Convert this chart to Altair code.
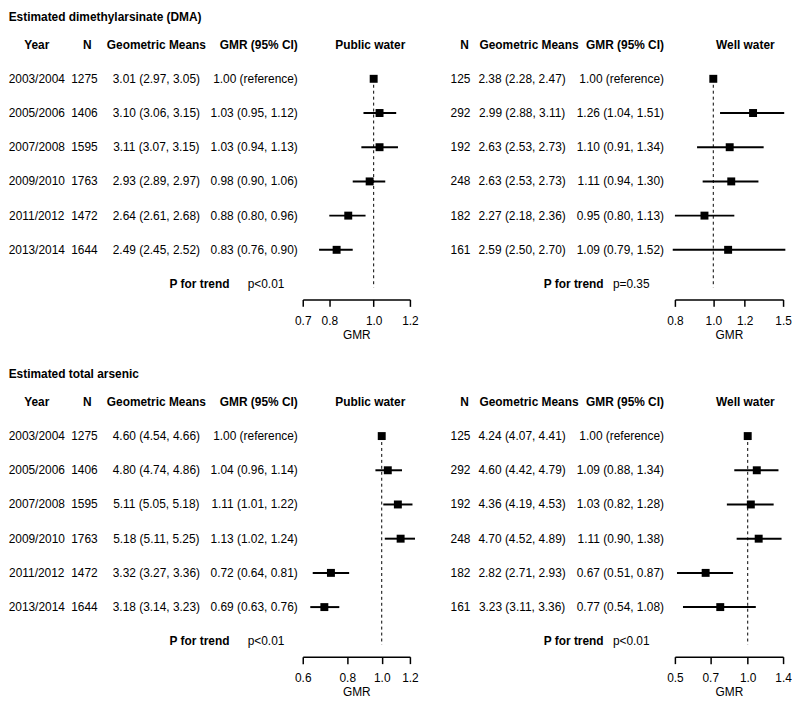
import altair as alt
import pandas as pd

FONT = "Liberation Sans"

years = ["2003/2004", "2005/2006", "2007/2008", "2009/2010", "2011/2012", "2013/2014"]
pub_n = [1275, 1406, 1595, 1763, 1472, 1644]
well_n = [125, 292, 192, 248, 182, 161]

# Estimated DMA
dma_pub_gm = [3.01, 3.10, 3.11, 2.93, 2.64, 2.49]
dma_pub_gm_lo = [2.97, 3.06, 3.07, 2.89, 2.61, 2.45]
dma_pub_gm_hi = [3.05, 3.15, 3.15, 2.97, 2.68, 2.52]
dma_pub_gmr = [1.00, 1.03, 1.03, 0.98, 0.88, 0.83]
dma_pub_lo = [None, 0.95, 0.94, 0.90, 0.80, 0.76]
dma_pub_hi = [None, 1.12, 1.13, 1.06, 0.96, 0.90]

dma_well_gm = [2.38, 2.99, 2.63, 2.63, 2.27, 2.59]
dma_well_gm_lo = [2.28, 2.88, 2.53, 2.53, 2.18, 2.50]
dma_well_gm_hi = [2.47, 3.11, 2.73, 2.73, 2.36, 2.70]
dma_well_gmr = [1.00, 1.26, 1.10, 1.11, 0.95, 1.09]
dma_well_lo = [None, 1.04, 0.91, 0.94, 0.80, 0.79]
dma_well_hi = [None, 1.51, 1.34, 1.30, 1.13, 1.52]

# Estimated total arsenic
tot_pub_gm = [4.60, 4.80, 5.11, 5.18, 3.32, 3.18]
tot_pub_gm_lo = [4.54, 4.74, 5.05, 5.11, 3.27, 3.14]
tot_pub_gm_hi = [4.66, 4.86, 5.18, 5.25, 3.36, 3.23]
tot_pub_gmr = [1.00, 1.04, 1.11, 1.13, 0.72, 0.69]
tot_pub_lo = [None, 0.96, 1.01, 1.02, 0.64, 0.63]
tot_pub_hi = [None, 1.14, 1.22, 1.24, 0.81, 0.76]

tot_well_gm = [4.24, 4.60, 4.36, 4.70, 2.82, 3.23]
tot_well_gm_lo = [4.07, 4.42, 4.19, 4.52, 2.71, 3.11]
tot_well_gm_hi = [4.41, 4.79, 4.53, 4.89, 2.93, 3.36]
tot_well_gmr = [1.00, 1.09, 1.03, 1.11, 0.67, 0.77]
tot_well_lo = [None, 0.88, 0.82, 0.90, 0.51, 0.54]
tot_well_hi = [None, 1.34, 1.28, 1.38, 0.87, 1.08]

dma_p = ["p<0.01", "p=0.35"]
tot_p = ["p<0.01", "p<0.01"]

dma_pub_ticks = [0.7, 0.8, 1.0, 1.2]
dma_well_ticks = [0.8, 1.0, 1.2, 1.5]
tot_pub_ticks = [0.6, 0.8, 1.0, 1.2]
tot_well_ticks = [0.5, 0.7, 1.0, 1.4]

H = 274


def make_df(n, gm, gml, gmh, gmr, lo, hi):
    gmr_lbl = []
    for g, l, h in zip(gmr, lo, hi):
        if l is None:
            gmr_lbl.append(f"{g:.2f} (reference)")
        else:
            gmr_lbl.append(f"{g:.2f} ({l:.2f}, {h:.2f})")
    return pd.DataFrame({
        "row": list(range(1, len(years) + 1)),
        "year": years,
        "n": [str(v) for v in n],
        "gm_lbl": [f"{a:.2f} ({b:.2f}, {c:.2f})" for a, b, c in zip(gm, gml, gmh)],
        "gmr_lbl": gmr_lbl,
        "gmr": gmr,
        "lo": lo,
        "hi": hi,
    })


def yscale():
    return alt.Scale(domain=[-0.5, 7.45], reverse=True, nice=False, zero=False)


def Y(field="row"):
    return alt.Y(f"{field}:Q", scale=yscale(), axis=None)


def txt(df, field, x, align="center", bold=False):
    return alt.Chart(df).mark_text(
        align=align, baseline="middle", font=FONT, fontSize=12,
        fontWeight="bold" if bold else "normal", color="black"
    ).encode(x=alt.value(x), y=Y(), text=f"{field}:N")


def label(text, row, x, align="center", bold=False):
    return txt(pd.DataFrame({"row": [row], "t": [text]}), "t", x, align, bold)


def left_table(df, pval):
    return alt.layer(
        label("Year", 0, 28, bold=True),
        label("N", 0, 79, bold=True),
        label("Geometric Means", 0, 148.5, bold=True),
        label("GMR (95% CI)", 0, 291, align="right", bold=True),
        txt(df, "year", 28),
        txt(df, "n", 76),
        txt(df, "gm_lbl", 148.5),
        txt(df, "gmr_lbl", 291, align="right"),
        label("P for trend", 7, 192, bold=True),
        label(pval, 7, 259),
    ).properties(width=296, height=H)


def right_table(df, pval):
    return alt.layer(
        label("N", 0, 55, bold=True),
        label("Geometric Means", 0, 120, bold=True),
        label("GMR (95% CI)", 0, 256, align="right", bold=True),
        txt(df, "n", 61, align="right"),
        txt(df, "gm_lbl", 113),
        txt(df, "gmr_lbl", 256, align="right"),
        label("P for trend", 7, 165, bold=True),
        label(pval, 7, 223),
    ).properties(width=267, height=H)


def forest(df, domain, ticks, width, header, hx):
    sc = alt.Scale(type="log", domain=domain, nice=False)
    ax = alt.Axis(values=ticks, format=".1f", title="GMR", orient="bottom",
                  domainColor="black", domainWidth=1.5, tickColor="black", tickWidth=1.5,
                  tickSize=7, labelFont=FONT, labelFontSize=12, labelColor="black",
                  labelPadding=9, titleFont=FONT, titleFontSize=12, titleFontWeight="normal",
                  titleColor="black", titlePadding=3, grid=False, labelFlush=False,
                  labelOverlap=False)
    ref = alt.Chart(pd.DataFrame({"ref": [1.0], "r1": [1.0], "r2": [7.1]})).mark_rule(
        color="black", strokeWidth=1, strokeDash=[3, 3]
    ).encode(x=alt.X("ref:Q", scale=sc, axis=ax), y=Y("r1"), y2="r2:Q")
    ci = alt.Chart(df).transform_filter("isValid(datum.lo)").mark_rule(
        color="black", strokeWidth=2
    ).encode(x=alt.X("lo:Q", scale=sc, axis=ax), x2="hi:Q", y=Y())
    pt = alt.Chart(df).mark_square(size=64, color="black", opacity=1).encode(
        x=alt.X("gmr:Q", scale=sc, axis=ax), y=Y()
    )
    return alt.layer(ref, ci, pt, label(header, 0, hx, bold=True)).properties(width=width, height=H)


def section(title, pub, well, pvals, pub_dom, pub_ticks, well_dom, well_ticks):
    return alt.hconcat(
        left_table(pub, pvals[0]),
        forest(pub, pub_dom, pub_ticks, 108, "Public water", 68),
        right_table(well, pvals[1]),
        forest(well, well_dom, well_ticks, 109, "Well water", 71),
        spacing=0, bounds="flush",
    ).properties(
        title=alt.TitleParams(title, anchor="start", font=FONT, fontSize=12,
                              fontWeight="bold", color="black", offset=4),
    )


dma_pub = make_df(pub_n, dma_pub_gm, dma_pub_gm_lo, dma_pub_gm_hi, dma_pub_gmr, dma_pub_lo, dma_pub_hi)
dma_well = make_df(well_n, dma_well_gm, dma_well_gm_lo, dma_well_gm_hi, dma_well_gmr, dma_well_lo, dma_well_hi)
tot_pub = make_df(pub_n, tot_pub_gm, tot_pub_gm_lo, tot_pub_gm_hi, tot_pub_gmr, tot_pub_lo, tot_pub_hi)
tot_well = make_df(well_n, tot_well_gm, tot_well_gm_lo, tot_well_gm_hi, tot_well_gmr, tot_well_lo, tot_well_hi)

sec1 = section("Estimated dimethylarsinate (DMA)", dma_pub, dma_well, dma_p,
               [0.7, 1.2], dma_pub_ticks, [0.8, 1.5], dma_well_ticks)
sec2 = section("Estimated total arsenic", tot_pub, tot_well, tot_p,
               [0.6, 1.2], tot_pub_ticks, [0.5, 1.4], tot_well_ticks)

chart = alt.vconcat(sec1, sec2, spacing=28).properties(
    padding=0, background="white"
).configure_view(stroke=None)

chart.save("out.html", embed_options={"renderer": "svg", "actions": False})
